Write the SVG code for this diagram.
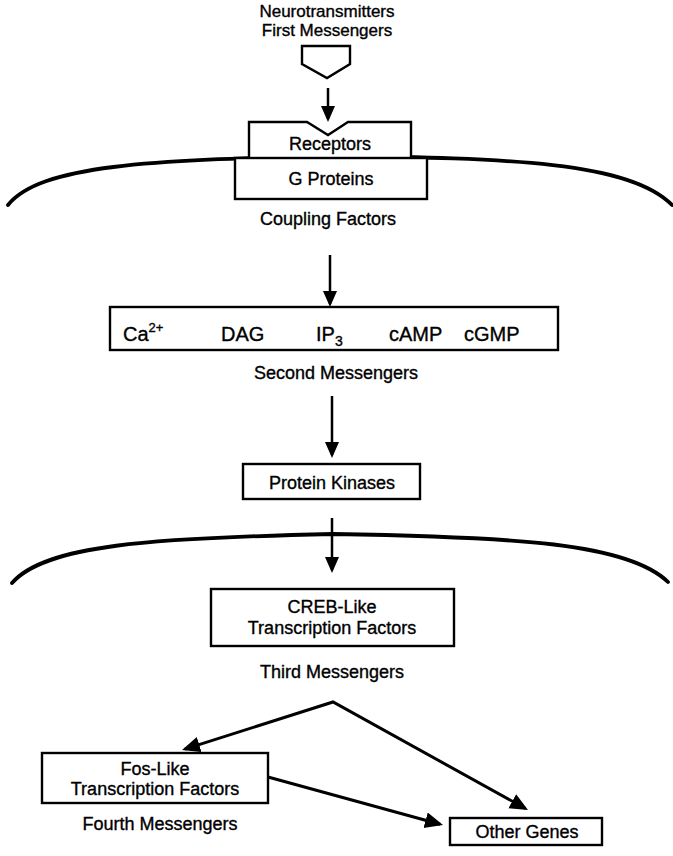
<svg xmlns="http://www.w3.org/2000/svg" width="673" height="856" viewBox="0 0 673 856">
  <defs>
    <marker id="head" markerUnits="userSpaceOnUse" markerWidth="18" markerHeight="16" refX="13" refY="7" orient="auto">
      <path d="M0,0 L16,7 L0,14 Z" fill="#000"/>
    </marker>
    <marker id="headBig" markerUnits="userSpaceOnUse" markerWidth="20" markerHeight="18" refX="15" refY="8" orient="auto-start-reverse">
      <path d="M0,0 L18,8 L0,16 Z" fill="#000"/>
    </marker>
    <style>
      text { font-family: "Liberation Sans", Arial, sans-serif; font-size: 18px; fill: #000; stroke: #000; stroke-width: 0.35; text-anchor: middle; }
      .box { fill: #fff; stroke: #000; stroke-width: 2.4; }
      .membrane { fill: none; stroke: #000; stroke-width: 3.8; stroke-linecap: round; }
      .link { fill: none; stroke: #000; stroke-width: 2.5; }
      .link2 { fill: none; stroke: #000; stroke-width: 3; stroke-linejoin: miter; }
      .lbl { font-size: 20px; text-anchor: start; }
      .top { font-size: 17px; }
    </style>
  </defs>

  <!-- cell membranes -->
  <path class="membrane" d="M8,205 C40,165 150,160 330,156 C510,158 630,162 672,205"/>
  <path class="membrane" d="M12,583 C45,545 150,538 333,534 C515,537 628,543 668,582"/>

  <!-- connectors -->
  <g id="connectors">
    <line class="link" x1="328" y1="88" x2="328" y2="119" marker-end="url(#head)"/>
    <line class="link" x1="330" y1="255" x2="330" y2="304" marker-end="url(#head)"/>
    <line class="link" x1="332" y1="396" x2="332" y2="455" marker-end="url(#head)"/>
    <line class="link" x1="332" y1="518" x2="332" y2="570" marker-end="url(#head)"/>
    <path class="link2" d="M184.9,749.1 L333,702 L525.4,808.5" marker-start="url(#headBig)" marker-end="url(#headBig)"/>
    <line class="link2" x1="268" y1="777" x2="440.1" y2="824.2" marker-end="url(#headBig)"/>
  </g>

  <!-- first messengers -->
  <g id="neurotransmitters">
    <text class="top" x="327" y="17">Neurotransmitters</text>
    <text class="top" x="327" y="36">First Messengers</text>
    <path class="box" d="M302,46 H350 V64 L327,78 L302,64 Z"/>
  </g>

  <!-- receptor with binding notch -->
  <g id="receptors">
    <path class="box" d="M249,157 V122 H307 L328,135 L348,122 H411 V157"/>
    <text x="330" y="150">Receptors</text>
  </g>

  <g id="g-proteins">
    <rect class="box" x="235" y="158" width="192" height="41"/>
    <text x="331" y="185">G Proteins</text>
  </g>

  <g id="coupling-factors">
    <text x="328" y="225">Coupling Factors</text>
  </g>

  <!-- second messengers -->
  <g id="second-messengers">
    <rect class="box" x="110" y="307" width="448" height="43"/>
    <text class="lbl" x="123" y="341">Ca<tspan font-size="13" dy="-9">2+</tspan></text>
    <text class="lbl" x="221" y="341">DAG</text>
    <text class="lbl" x="316" y="341">IP<tspan font-size="14" dy="5">3</tspan></text>
    <text class="lbl" x="389" y="341">cAMP</text>
    <text class="lbl" x="464" y="341">cGMP</text>
    <text x="336" y="379">Second Messengers</text>
  </g>

  <g id="protein-kinases">
    <rect class="box" x="243" y="464" width="177" height="35"/>
    <text x="332" y="489">Protein Kinases</text>
  </g>

  <!-- nuclear events -->
  <g id="creb">
    <rect class="box" x="211" y="589" width="243" height="57"/>
    <text x="332" y="613">CREB-Like</text>
    <text x="332" y="634">Transcription Factors</text>
  </g>

  <g id="third-messengers">
    <text x="332" y="678">Third Messengers</text>
  </g>

  <g id="fos">
    <rect class="box" x="42" y="753" width="226" height="50"/>
    <text x="155" y="775">Fos-Like</text>
    <text x="155" y="795">Transcription Factors</text>
    <text x="160" y="830">Fourth Messengers</text>
  </g>

  <g id="other-genes">
    <rect class="box" x="450" y="818" width="152" height="27"/>
    <text x="527" y="838">Other Genes</text>
  </g>
</svg>
